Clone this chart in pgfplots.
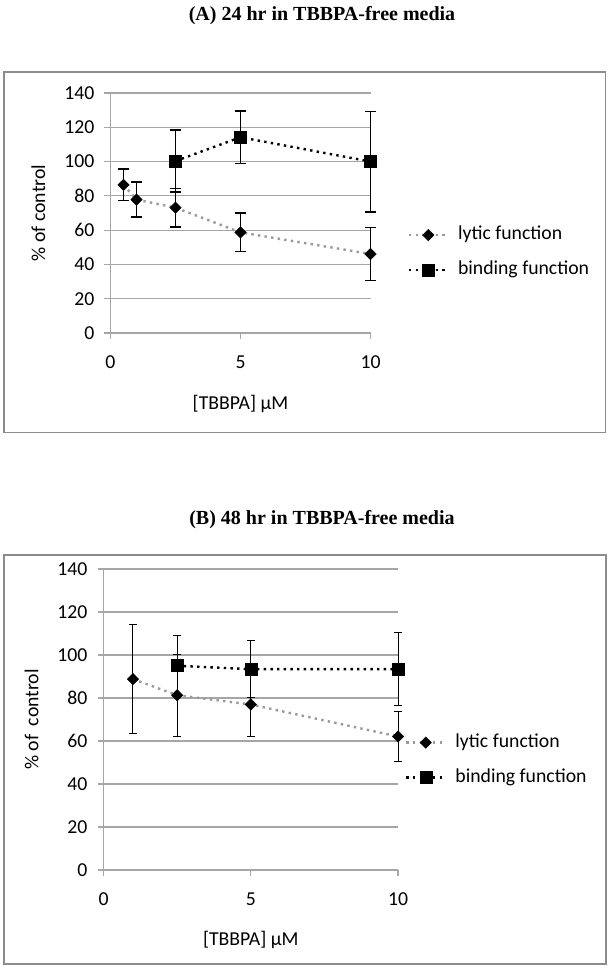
\documentclass[border=0pt]{standalone}
\usepackage{pgfplots}
\pgfplotsset{compat=1.18}
\usepackage{fontspec}
\setmainfont{Carlito}
\newfontfamily\titlefont{Liberation Serif}
\definecolor{gridc}{HTML}{A6A6A6}
\definecolor{lyt}{HTML}{9A9A9A}
\definecolor{framec}{HTML}{8C8C8C}
\newcommand{\lab}{\fontsize{14.8}{17}\selectfont}

\pgfplotstableread{
x y e
0.5 86.4 9.2
1 77.8 10.2
2.5 73.1 11.3
5 58.7 11.2
10 46.1 15.4
}\lyticA
\pgfplotstableread{
x y e
2.5 100.3 18
5 114.2 15.2
10 100 29.3
}\bindA
\pgfplotstableread{
x y e
1 88.8 25.3
2.5 81.3 19
5 77 14.7
10 62.1 11.8
}\lyticB
\pgfplotstableread{
x y e
2.5 95 14.3
5 93.4 13.2
10 93.4 17.1
}\bindB

\pgfplotsset{
 panel/.style={
  scale only axis, clip=false,
  xmin=0, xmax=10, ymin=0, ymax=140,
  xtick={0,5,10}, ytick={0,20,...,140},
  axis lines=left, axis line style={-, draw=gridc, line width=0.9pt},
  ymajorgrids, grid style={draw=gridc, line width=0.9pt},
  tick align=outside, major tick length=4.5pt,
  tick style={draw=gridc, line width=0.9pt},
  /pgf/number format/assume math mode=true,
  tick label style={font=\lab, text=black},
  yticklabel style={xshift=-4pt},
  xticklabel style={yshift=-9pt},
  label style={font=\lab},
  legend cell align=left,
  legend style={draw=none, fill=none, inner sep=0pt, outer sep=0pt, font=\lab,
    row sep=13.25pt,
    nodes={inner sep=0pt, text height=10pt, text depth=3pt},
    /tikz/every odd column/.append style={column sep=6.75pt}},
  legend image code/.code={\draw[mark repeat=2,mark phase=2] plot coordinates {(0pt,0pt)(14.6pt,0pt)(29.2pt,0pt)};},
 },
 lytic/.style={color=lyt, line width=1.8pt, dash pattern=on 1.8pt off 3.2pt,
   mark=square*, mark size=3.0pt, mark options={black, solid, rotate=45, line width=0.4pt}},
 bind/.style={color=black, line width=1.8pt, dash pattern=on 1.8pt off 3.2pt,
   mark=square*, mark size=4.5pt, mark options={black, solid, line width=0.4pt}},
}

\begin{document}
\begin{tikzpicture}[x=0.75pt,y=-0.75pt]
\path[use as bounding box] (0,0) rectangle (609,969);
% ---------- Panel A ----------
\node[font=\titlefont\bfseries\fontsize{15}{18}\selectfont] at (322,16) {(A) 24 hr in TBBPA-free media};
\draw[framec, line width=0.9pt] (4,72) rectangle (605.5,432.5);
\coordinate (A0) at (110.5,333);
\begin{axis}[panel, at={(A0)}, anchor=south west, width=195pt, height=180pt,
  xlabel={[TBBPA] µM}, ylabel={\% of control},
  xlabel style={at={(axis description cs:0.5,-0.296)}, anchor=center},
  ylabel style={at={(axis description cs:-0.277,0.5)}, anchor=center},
  legend style={at={(1.143,0.335)}, anchor=west},
  error bars/error bar style={black, line width=1.1pt, solid},
  error bars/error mark options={black, rotate=90, mark size=3.8pt, line width=1.1pt, solid},
]
\addplot[lytic, error bars/.cd, y dir=both, y explicit] table[x=x, y=y, y error=e] {\lyticA};
\addplot[bind, error bars/.cd, y dir=both, y explicit] table[x=x, y=y, y error=e] {\bindA};
\legend{lytic function, binding function}
\end{axis}
% ---------- Panel B ----------
\node[font=\titlefont\bfseries\fontsize{15}{18}\selectfont] at (322,520) {(B) 48 hr in TBBPA-free media};
\draw[framec, line width=0.9pt] (4,555) rectangle (606,964);
\coordinate (B0) at (103.5,870);
\begin{axis}[panel, at={(B0)}, anchor=south west, width=220.9pt, height=225.75pt,
  xlabel={[TBBPA] µM}, ylabel={\% of~~control},
  xlabel style={at={(axis description cs:0.5,-0.233)}, anchor=center},
  ylabel style={at={(axis description cs:-0.244,0.5)}, anchor=center},
  legend style={at={(1.024,0.365)}, anchor=west},
  error bars/error bar style={black, line width=0.7pt, solid},
  error bars/error mark options={black, rotate=90, mark size=2.8pt, line width=0.7pt, solid},
]
\addplot[lytic, error bars/.cd, y dir=both, y explicit] table[x=x, y=y, y error=e] {\lyticB};
\addplot[bind, error bars/.cd, y dir=both, y explicit] table[x=x, y=y, y error=e] {\bindB};
\legend{lytic function, binding function}
\end{axis}
\end{tikzpicture}
\end{document}
